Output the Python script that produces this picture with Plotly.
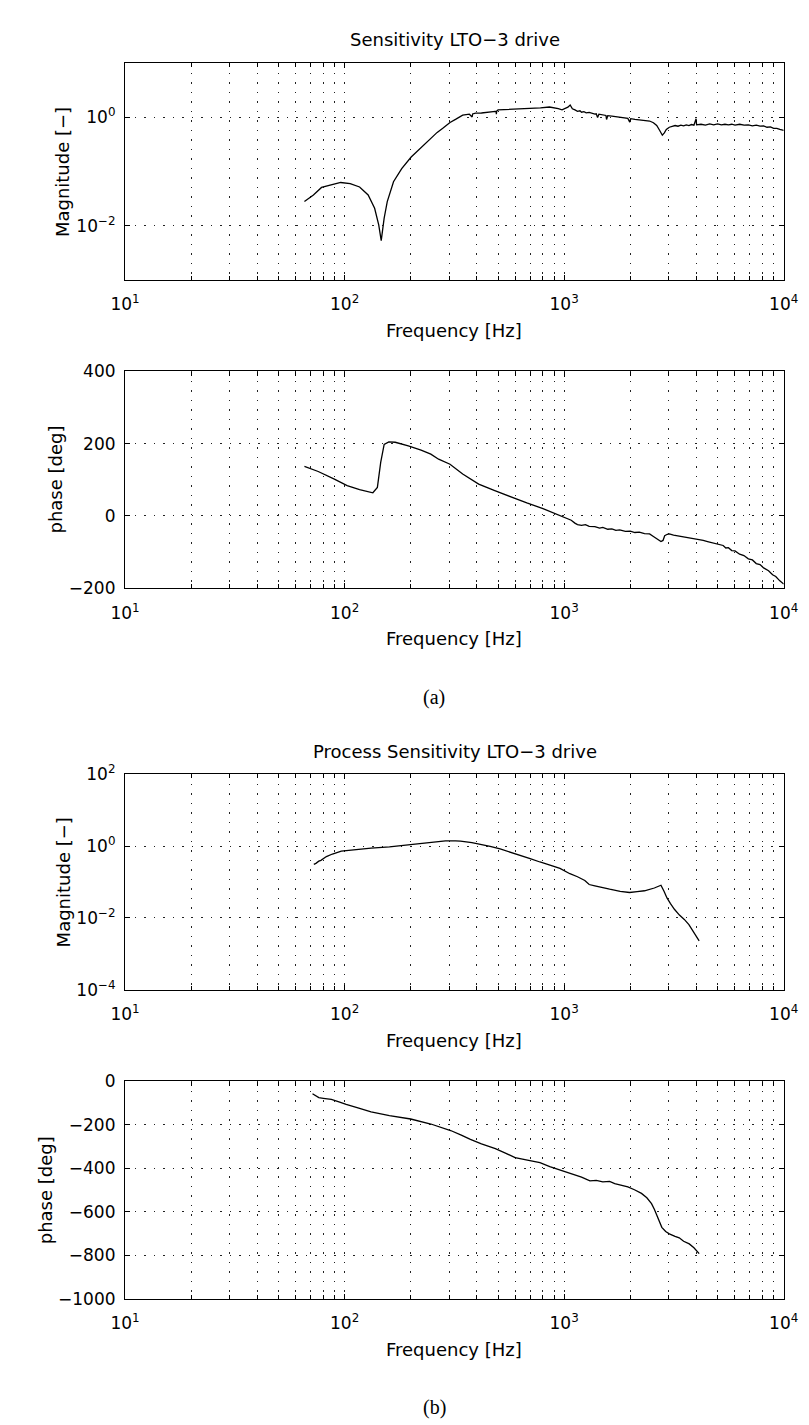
import plotly.graph_objects as go

W, H = 809, 1425

# ---------------- data ----------------
sens_freq = [65.6, 72.1, 78.5, 82.6, 89.8, 96, 106, 117, 128, 137, 143, 146.8, 151.4, 156.4,
             167, 182, 201, 223, 245, 264, 280, 302, 320, 345, 370, 381, 383, 395, 420, 452,
             475, 490, 491, 493, 500, 550, 611, 650, 700, 724, 780, 857, 900, 940, 978, 1010,
             1040, 1065, 1090, 1120, 1150, 1180, 1200, 1230, 1260, 1300, 1340, 1380, 1400,
             1420, 1440, 1500, 1550, 1560, 1580, 1650, 1700, 1791, 1850, 1950, 1990, 2010,
             2100, 2200, 2323, 2450, 2550, 2640, 2720, 2800, 2860, 2920, 3013, 3100, 3200,
             3300, 3400, 3500, 3600, 3700, 3800, 3900, 3990, 4010, 4200, 4400, 4600, 4800,
             5000, 5200, 5400, 5600, 5800, 6000, 6300, 6600, 6900, 7200, 7500, 7800, 8100,
             8400, 8700, 9000, 9300, 9600, 10000]
sens_mag = [0.028, 0.037, 0.051, 0.054, 0.060, 0.063, 0.060, 0.052, 0.037, 0.021, 0.0104,
            0.0053, 0.0138, 0.028, 0.065, 0.114, 0.186, 0.28, 0.40, 0.53, 0.63, 0.81, 0.92,
            1.10, 1.15, 1.02, 1.16, 1.20, 1.21, 1.23, 1.28, 1.30, 1.15, 1.31, 1.38, 1.40, 1.46,
            1.44, 1.47, 1.46, 1.50, 1.56, 1.52, 1.45, 1.38, 1.45, 1.55, 1.70, 1.45, 1.38, 1.30,
            1.33, 1.25, 1.28, 1.22, 1.24, 1.18, 1.15, 1.17, 1.00, 1.15, 1.12, 1.09, 0.92, 1.08,
            1.06, 1.04, 1.02, 0.98, 0.96, 0.82, 0.95, 0.92, 0.91, 0.89, 0.86, 0.80, 0.71, 0.58,
            0.47, 0.52, 0.60, 0.66, 0.68, 0.71, 0.69, 0.72, 0.70, 0.73, 0.71, 0.74, 0.72, 0.95,
            0.73, 0.75, 0.72, 0.76, 0.73, 0.76, 0.73, 0.75, 0.73, 0.75, 0.72, 0.75, 0.72, 0.73,
            0.70, 0.72, 0.69, 0.70, 0.66, 0.67, 0.63, 0.63, 0.60, 0.58]

sens_ph_freq = [65.6, 75.8, 89.8, 102.7, 117, 134.5, 141, 146, 151.4, 159, 170, 195, 223, 247,
                268, 302, 345, 408, 483, 571, 676, 801, 949, 1077, 1119, 1150, 1200, 1250, 1300,
                1380, 1450, 1500, 1580, 1650, 1720, 1791, 1900, 2000, 2100, 2200, 2323, 2450,
                2550, 2640, 2760, 2820, 2870, 2950, 3013, 3150, 3300, 3450, 3600, 3750, 3907,
                4100, 4300, 4500, 4700, 4900, 5070, 5300, 5450, 5600, 5800, 6000, 6300, 6590,
                6900, 7200, 7500, 7800, 8100, 8530, 8900, 9200, 9600, 10000]
sens_phase = [137, 123, 102, 84, 73, 64, 79, 148, 198, 205, 204, 194, 182, 171,
              157, 143, 116, 88, 70, 52, 36, 20, 2, -12, -20, -24, -26, -24, -29,
              -30, -34, -32, -37, -36, -40, -39, -43, -42, -46, -45, -49, -50,
              -57, -64, -71, -68, -55, -51, -50, -53, -55, -57, -59, -61, -63,
              -65, -68, -71, -74, -78, -80, -82, -89, -88, -96, -97, -106, -110,
              -119, -122, -132, -135, -144, -152, -163, -168, -180, -189]

proc_freq = [72.4, 74, 76.3, 78, 82.6, 88, 96.6, 110, 132, 160, 200, 240, 288, 320, 337, 380,
             416, 460, 511, 570, 631, 700, 776, 860, 957, 1062, 1150, 1242, 1300, 1380, 1500,
             1611, 1800, 1986, 2150, 2323, 2575, 2760, 2850, 2940, 3050, 3178, 3350, 3525, 3700,
             3811, 4000, 4120]
proc_mag = [0.31, 0.33, 0.38, 0.40, 0.51, 0.60, 0.72, 0.79, 0.88, 0.95, 1.11, 1.22, 1.40, 1.40,
            1.38, 1.25, 1.14, 0.98, 0.83, 0.68, 0.55, 0.45, 0.36, 0.30, 0.24, 0.17, 0.14, 0.11,
            0.085, 0.078, 0.068, 0.063, 0.055, 0.051, 0.054, 0.057, 0.068, 0.081, 0.055, 0.036,
            0.025, 0.0174, 0.012, 0.0091, 0.0065, 0.0049, 0.0033, 0.0023]

proc_ph_freq = [71.4, 74, 76.3, 80, 87, 95, 101.6, 115, 132, 160, 200, 247, 275, 304, 340, 374,
                420, 486, 540, 598, 680, 776, 860, 957, 1040, 1119, 1200, 1310, 1400, 1500, 1611,
                1700, 1791, 1950, 2090, 2250, 2380, 2500, 2575, 2680, 2785, 2900, 3013, 3200,
                3343, 3500, 3715, 3900, 4120]
proc_phase = [-57, -66, -75, -78, -83, -95, -106, -122, -140, -157, -173, -196, -210, -226,
              -247, -267, -287, -309, -330, -350, -362, -374, -392, -407, -420, -430, -440,
              -457, -455, -462, -460, -470, -475, -485, -498, -515, -535, -562, -588, -630,
              -671, -690, -701, -712, -719, -735, -747, -765, -792]

x_tick_vals = [10, 100, 1000, 10000]
x_tick_text = ["10<sup>1</sup>", "10<sup>2</sup>", "10<sup>3</sup>", "10<sup>4</sup>"]
x_minor_vals = [20, 30, 40, 50, 60, 70, 80, 90,
                200, 300, 400, 500, 600, 700, 800, 900,
                2000, 3000, 4000, 5000, 6000, 7000, 8000, 9000]

mag1_tick_vals = [0.01, 1]
mag1_tick_text = ["10<sup>−2</sup>", "10<sup>0</sup>"]
ph1_tick_vals = [-200, 0, 200, 400]
ph1_tick_text = ["−200", "0", "200", "400"]
mag2_tick_vals = [1e-4, 1e-2, 1, 100]
mag2_tick_text = ["10<sup>−4</sup>", "10<sup>−2</sup>", "10<sup>0</sup>", "10<sup>2</sup>"]
ph2_tick_vals = [-1000, -800, -600, -400, -200, 0]
ph2_tick_text = ["−1000", "−800", "−600", "−400", "−200", "0"]

# ---------------- layout geometry (pixels) ----------------
LEFT, RIGHT = 106, 790
boxes = [(44, 264), (357, 577), (766, 985), (1078, 1299)]
FONT = "DejaVu Sans"
TICK_SIZE = 17
LABEL_SIZE = 18
GRID_COLOR = "#222222"
GRID_DASH = "1.5px,8px"


def px(x):
    return x / W


def py(y):
    return 1 - y / H


fig = go.Figure()
series = [(sens_freq, sens_mag), (sens_ph_freq, sens_phase),
          (proc_freq, proc_mag), (proc_ph_freq, proc_phase)]
for i, (fx, fy) in enumerate(series, start=1):
    fig.add_trace(go.Scatter(x=fx, y=fy, mode="lines",
                             line=dict(color="black", width=1.3),
                             xaxis=f"x{i}" if i > 1 else "x",
                             yaxis=f"y{i}" if i > 1 else "y",
                             showlegend=False, hoverinfo="skip"))

grid_common = dict(showgrid=True, gridcolor=GRID_COLOR, gridwidth=1.2, griddash=GRID_DASH,
                   showline=True, linecolor="black", linewidth=1.3, mirror="ticks",
                   ticks="inside", ticklen=5, tickcolor="black", tickwidth=1,
                   zeroline=False, tickfont=dict(family=FONT, size=TICK_SIZE, color="black"))

yspecs = [
    dict(type="log", range=[-3, 1], tickvals=mag1_tick_vals, ticktext=mag1_tick_text),
    dict(type="linear", range=[-200, 400], tickvals=ph1_tick_vals, ticktext=ph1_tick_text),
    dict(type="log", range=[-4, 2], tickvals=mag2_tick_vals, ticktext=mag2_tick_text),
    dict(type="linear", range=[-1000, 0], tickvals=ph2_tick_vals, ticktext=ph2_tick_text),
]

layout = dict(width=W, height=H, margin=dict(l=0, r=0, t=0, b=0),
              paper_bgcolor="white", plot_bgcolor="white", showlegend=False)
for i, (top, bot) in enumerate(boxes, start=1):
    sfx = "" if i == 1 else str(i)
    layout[f"xaxis{sfx}"] = dict(type="log", range=[1, 4], domain=[px(LEFT), px(RIGHT)],
                                 anchor=f"y{sfx}", tickmode="array",
                                 tickvals=x_tick_vals, ticktext=x_tick_text,
                                 minor=dict(tickmode="array", tickvals=x_minor_vals,
                                            ticks="inside", ticklen=4, tickcolor="black",
                                            showgrid=True, gridcolor=GRID_COLOR,
                                            gridwidth=1.2, griddash=GRID_DASH),
                                 ticklabelstandoff=9, **grid_common)
    layout[f"yaxis{sfx}"] = dict(domain=[py(bot), py(top)], anchor=f"x{sfx}",
                                 tickmode="array", ticklabelstandoff=5,
                                 **yspecs[i - 1], **grid_common)
fig.update_layout(**layout)

ann = []


def text(x, y, s, size=LABEL_SIZE, family=FONT, angle=0):
    ann.append(dict(x=px(x), y=py(y), xref="paper", yref="paper", text=s, showarrow=False,
                    xanchor="center", yanchor="middle", textangle=angle,
                    font=dict(family=family, size=size, color="black")))


text(449, 20, "Sensitivity LTO−3 drive")
text(449, 743, "Process Sensitivity LTO−3 drive")
for top, bot in boxes:
    text(448, bot + 51, "Frequency [Hz]")
text(41, (boxes[0][0] + boxes[0][1]) / 2, "Magnitude [−]", angle=-90)
text(34, (boxes[1][0] + boxes[1][1]) / 2, "phase [deg]", angle=-90)
text(43, (boxes[2][0] + boxes[2][1]) / 2, "Magnitude [−]", angle=-90)
text(23, (boxes[3][0] + boxes[3][1]) / 2, "phase [deg]", angle=-90)
text(427, 688, "(a)", size=20, family="Liberation Serif")
text(427, 1409, "(b)", size=20, family="Liberation Serif")
fig.update_layout(annotations=ann)

fig.write_html("out.html")
